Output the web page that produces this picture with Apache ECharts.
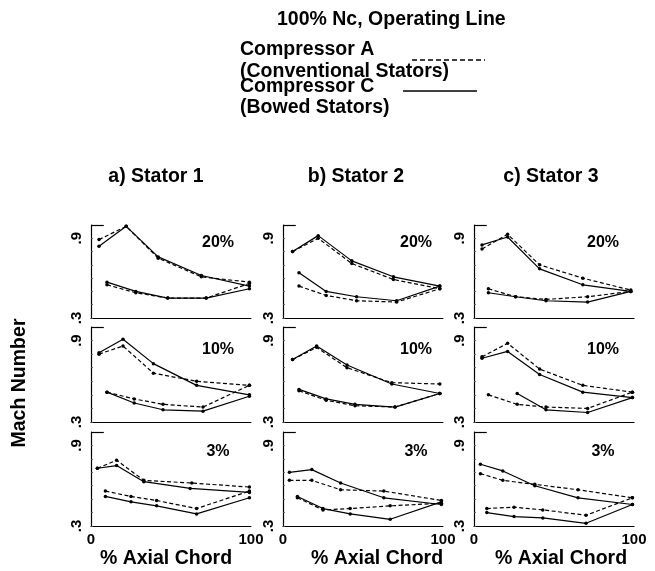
<!DOCTYPE html>
<html>
<head>
<meta charset="utf-8">
<script src="https://cdn.jsdelivr.net/npm/echarts@6/dist/echarts.min.js"></script>
<style>
  html, body { margin: 0; padding: 0; background: #fff; }
  #chart { width: 655px; height: 571px; }
</style>
</head>
<body>
<div id="chart"></div>
<script>
// [% axial chord, Mach number]; A = conventional stators (dashed), C = bowed stators (solid)
// hi = upper curve, lo = lower curve
const s1_20_A_hi = [[5, 0.89], [22, 0.99], [42, 0.75], [69, 0.61], [99, 0.57]];
const s1_20_C_hi = [[5, 0.84], [22, 0.99], [42, 0.76], [69, 0.62], [99, 0.54]];
const s1_20_A_lo = [[10, 0.55], [28, 0.49], [48, 0.45], [72, 0.45], [99, 0.56]];
const s1_20_C_lo = [[10, 0.57], [28, 0.50], [48, 0.45], [72, 0.45], [99, 0.52]];

const s2_20_A_hi = [[6, 0.80], [22, 0.90], [43, 0.71], [69, 0.59], [98, 0.52]];
const s2_20_C_hi = [[6, 0.80], [22, 0.92], [43, 0.73], [69, 0.61], [98, 0.54]];
const s2_20_A_lo = [[10, 0.54], [27, 0.47], [46, 0.43], [71, 0.42], [98, 0.52]];
const s2_20_C_lo = [[10, 0.64], [27, 0.50], [46, 0.46], [71, 0.43], [98, 0.54]];

const s3_20_A_hi = [[5, 0.82], [21, 0.93], [41, 0.70], [68, 0.60], [98, 0.51]];
const s3_20_C_hi = [[5, 0.85], [21, 0.91], [41, 0.67], [68, 0.55], [98, 0.50]];
const s3_20_A_lo = [[9, 0.52], [26, 0.46], [45, 0.44], [71, 0.46], [98, 0.50]];
const s3_20_C_lo = [[9, 0.49], [26, 0.46], [45, 0.43], [71, 0.42], [98, 0.50]];

const s1_10_A_hi = [[5, 0.80], [20, 0.86], [39, 0.66], [66, 0.60], [99, 0.57]];
const s1_10_C_hi = [[5, 0.81], [20, 0.91], [39, 0.73], [66, 0.57], [99, 0.50]];
const s1_10_A_lo = [[10, 0.52], [27, 0.47], [45, 0.43], [70, 0.41], [99, 0.57]];
const s1_10_C_lo = [[10, 0.52], [27, 0.44], [45, 0.39], [70, 0.38], [99, 0.49]];

const s2_10_A_hi = [[6, 0.76], [21, 0.85], [40, 0.70], [68, 0.59], [98, 0.58]];
const s2_10_C_hi = [[6, 0.76], [21, 0.86], [40, 0.72], [68, 0.58], [98, 0.51]];
const s2_10_A_lo = [[10, 0.53], [27, 0.46], [45, 0.42], [70, 0.41], [98, 0.51]];
const s2_10_C_lo = [[10, 0.54], [27, 0.47], [45, 0.43], [70, 0.41], [98, 0.51]];

const s3_10_A_hi = [[5, 0.78], [21, 0.88], [41, 0.69], [68, 0.57], [99, 0.52]];
const s3_10_C_hi = [[5, 0.77], [21, 0.82], [41, 0.65], [68, 0.52], [99, 0.48]];
const s3_10_A_lo = [[9, 0.50], [27, 0.43], [45, 0.41], [71, 0.40], [99, 0.52]];
const s3_10_C_lo = [[27, 0.51], [45, 0.39], [71, 0.37], [99, 0.48]];

const s1_3_A_hi = [[4, 0.73], [16, 0.79], [33, 0.64], [63, 0.62], [99, 0.59]];
const s1_3_C_hi = [[4, 0.73], [16, 0.75], [33, 0.63], [62, 0.58], [99, 0.55]];
const s1_3_A_lo = [[9, 0.56], [25, 0.52], [41, 0.49], [66, 0.43], [99, 0.56]];
const s1_3_C_lo = [[9, 0.52], [25, 0.48], [41, 0.45], [66, 0.39], [99, 0.51]];

const s2_3_A_hi = [[4, 0.64], [18, 0.64], [36, 0.57], [63, 0.56], [99, 0.49]];
const s2_3_C_hi = [[4, 0.70], [18, 0.72], [36, 0.62], [63, 0.51], [99, 0.46]];
const s2_3_A_lo = [[9, 0.51], [25, 0.42], [42, 0.43], [67, 0.45], [99, 0.47]];
const s2_3_C_lo = [[9, 0.52], [25, 0.43], [42, 0.39], [67, 0.35], [99, 0.48]];

const s3_3_A_hi = [[4, 0.69], [18, 0.64], [38, 0.61], [65, 0.57], [99, 0.51]];
const s3_3_C_hi = [[4, 0.76], [18, 0.71], [38, 0.60], [65, 0.51], [99, 0.46]];
const s3_3_A_lo = [[8, 0.43], [25, 0.44], [43, 0.42], [70, 0.38], [99, 0.51]];
const s3_3_C_lo = [[8, 0.40], [25, 0.37], [43, 0.36], [70, 0.32], [99, 0.46]];

const statorTitles = ['a) Stator 1', 'b) Stator 2', 'c) Stator 3'];
const spanLabels = ['20%', '10%', '3%'];
const xTicks = [0, 100];
const yTickLabels = { 0.3: '.3', 0.9: '.9' };

// rows = span, cols = stator
const panelData = [
  [[s1_20_A_hi, s1_20_C_hi, s1_20_A_lo, s1_20_C_lo],
   [s2_20_A_hi, s2_20_C_hi, s2_20_A_lo, s2_20_C_lo],
   [s3_20_A_hi, s3_20_C_hi, s3_20_A_lo, s3_20_C_lo]],
  [[s1_10_A_hi, s1_10_C_hi, s1_10_A_lo, s1_10_C_lo],
   [s2_10_A_hi, s2_10_C_hi, s2_10_A_lo, s2_10_C_lo],
   [s3_10_A_hi, s3_10_C_hi, s3_10_A_lo, s3_10_C_lo]],
  [[s1_3_A_hi, s1_3_C_hi, s1_3_A_lo, s1_3_C_lo],
   [s2_3_A_hi, s2_3_C_hi, s2_3_A_lo, s2_3_C_lo],
   [s3_3_A_hi, s3_3_C_hi, s3_3_A_lo, s3_3_C_lo]]
];

const colLeft = [91, 283, 474];
const rowTop = [225, 327, 432];
const rowH = [93, 95, 94];
const FONT = '"Liberation Sans", Arial, sans-serif';

const chart = echarts.init(document.getElementById('chart'));

let grid = [], xAxis = [], yAxis = [], series = [];
let idx = 0;
for (let r = 0; r < 3; r++) {
  for (let c = 0; c < 3; c++) {
    grid.push({ left: colLeft[c], top: rowTop[r], width: 160, height: rowH[r] });
    xAxis.push({
      gridIndex: idx, type: 'value', min: 0, max: 100, interval: 100,
      axisLine: { show: true, lineStyle: { color: '#000', width: 1.2 } },
      axisTick: { show: false },
      splitLine: { show: false },
      axisLabel: {
        show: r === 2, color: '#000', fontWeight: 'bold', fontSize: 15,
        fontFamily: FONT, margin: 6,
        formatter: v => xTicks.indexOf(v) >= 0 ? String(v) : ''
      }
    });
    yAxis.push({
      gridIndex: idx, type: 'value', min: 0.3, max: 1.0, interval: 0.1,
      axisLine: { show: true, lineStyle: { color: '#000', width: 1.2 } },
      axisTick: { show: true, inside: true, length: 2, lineStyle: { color: '#555', width: 0.8 } },
      splitLine: { show: false },
      axisLabel: {
        show: true, rotate: 90, color: '#000', fontWeight: 'bold', fontSize: 15,
        fontFamily: FONT, margin: 7, showMinLabel: true, showMaxLabel: false,
        formatter: v => {
          const k = Math.round(v * 10) / 10;
          return yTickLabels[k] || '';
        }
      }
    });
    panelData[r][c].forEach((d, k) => {
      const dashed = k % 2 === 0;
      const s = {
        type: 'line', xAxisIndex: idx, yAxisIndex: idx, data: d,
        symbol: 'circle', symbolSize: 3.5, showSymbol: true,
        lineStyle: { color: '#000', width: 1.2, type: dashed ? [4, 2.5] : 'solid' },
        itemStyle: { color: '#000' },
        silent: true, animation: false, z: 3
      };
      if (k === 0) {
        // short top cap of the frame
        s.markLine = {
          silent: true, symbol: 'none', label: { show: false },
          lineStyle: { color: '#000', width: 1.2, type: 'solid' },
          data: [[{ coord: [0, 1.0] }, { coord: [8, 1.0] }]]
        };
      }
      series.push(s);
    });
    idx++;
  }
}

const graphic = [];
function txt(text, x, y, size, align, rot) {
  graphic.push({
    type: 'text', x: x, y: y, rotation: rot || 0,
    style: {
      text: text, fill: '#000', font: 'bold ' + size + 'px ' + FONT,
      textAlign: align || 'left', textVerticalAlign: 'middle'
    }
  });
}
txt('100% Nc, Operating Line', 277, 20, 19.5);
txt('Compressor A', 240, 50, 19.5);
txt('(Conventional Stators)', 240, 72, 19.5);
txt('Compressor C', 240, 87, 19.5);
txt('(Bowed Stators)', 240, 108, 19.5);
graphic.push({
  type: 'line', shape: { x1: 412, y1: 60, x2: 485, y2: 60 },
  style: { stroke: '#000', lineWidth: 1.3, lineDash: [5, 3] }
});
graphic.push({
  type: 'line', shape: { x1: 403, y1: 91, x2: 477, y2: 91 },
  style: { stroke: '#000', lineWidth: 1.3 }
});
const statorX = [156, 356, 551];
statorTitles.forEach((t, i) => txt(t, statorX[i], 177, 19.5, 'center'));
const spanX = [218, 416, 603];
const spanY = [243, 350, 452];
for (let r = 0; r < 3; r++) for (let c = 0; c < 3; c++) txt(spanLabels[r], spanX[c], spanY[r], 16, 'center');
const chordX = [166, 377, 561];
chordX.forEach(x => txt('% Axial Chord', x, 559, 19.5, 'center'));
txt('Mach Number', 20, 383, 19.5, 'center', Math.PI / 2);

chart.setOption({
  backgroundColor: '#fff',
  animation: false,
  grid: grid,
  xAxis: xAxis,
  yAxis: yAxis,
  series: series,
  graphic: graphic
});
window.addEventListener('resize', function () { chart.resize(); });
</script>
</body>
</html>
